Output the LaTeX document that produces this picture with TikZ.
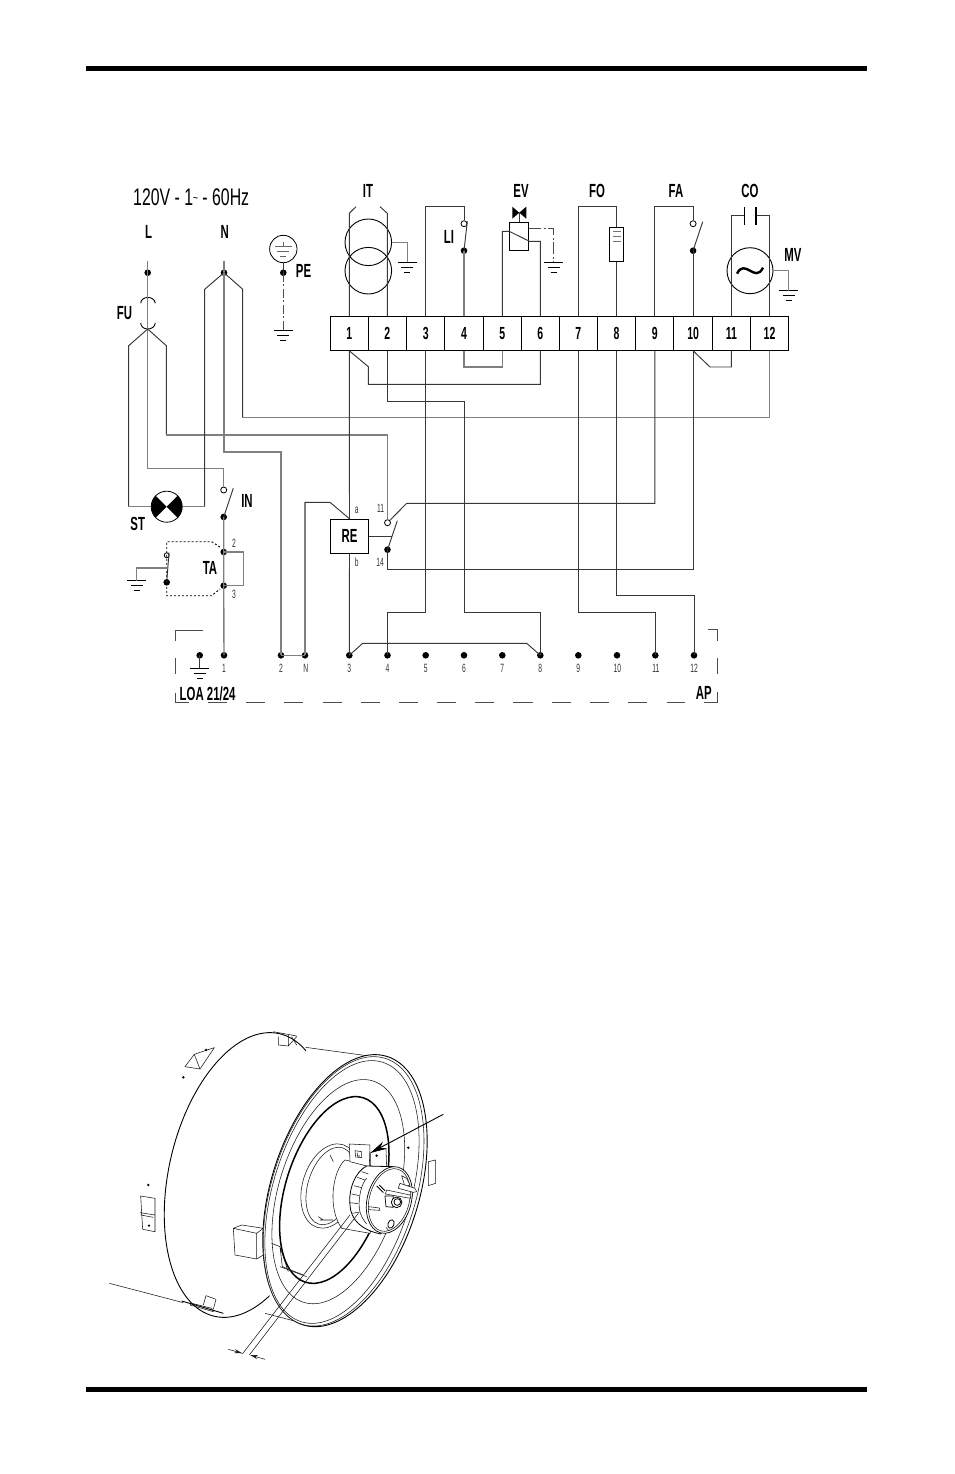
\documentclass[tikz,border=0pt]{standalone}
\usepackage{fontspec}
\setmainfont{Liberation Sans}
\newfontfamily\condf[FakeStretch=0.6]{Liberation Sans}
\newfontfamily\titlef[FakeStretch=0.66]{Liberation Sans}
\newfontfamily\smallf[FakeStretch=0.56]{Liberation Sans}
\usetikzlibrary{arrows.meta}
\tikzset{
  wire/.style={line width=0.95pt,black!78},
  greywire/.style={line width=1.4pt,black!50},
  term/.style={draw,line width=1pt,minimum width=38.3pt,minimum height=34pt,inner sep=0pt,font=\condf\bfseries\fontsize{17.5}{17.5}\selectfont},
  dot/.style={circle,fill=black,inner sep=0pt,minimum size=6.6pt},
  ocirc/.style={circle,draw,line width=0.8pt,fill=white,inner sep=0pt,minimum size=6pt},
  lab/.style={inner sep=0pt,font=\condf\bfseries\fontsize{19}{19}\selectfont},
  tiny/.style={inner sep=0pt,font=\smallf\fontsize{12}{12}\selectfont,text=black!80},
  loabox/.style={line width=1pt,black!70},
  ill/.style={line width=0.55pt,black!90,line join=round},
  gnd/.pic={\draw[line width=1pt] (-9.5,0)--(9.5,0) (-6,5)--(6,5) (-3,10)--(3,10);},
}
\newcommand{\tilt}[6][ill]{% style, cx, cy, a, b, rot (zoom units)
  \draw[#1,fill=white,rotate around={#6:(#2,#3)}] (#2,#3) ellipse [x radius=#4,y radius=#5];}
\begin{document}
\begin{tikzpicture}[x=1pt,y=-1pt]
\useasboundingbox (0,0) rectangle (954,1474);
% page bars
\fill (86,66) rectangle (867,71);
\fill (86,1387) rectangle (867,1392);
\node[inner sep=0pt,anchor=west,font=\titlef\fontsize{24}{24}\selectfont] (title) at (133,197) {120V - 1\raisebox{3pt}{\fontsize{13}{13}\selectfont\char"7E} - 60Hz};
% terminal block
\foreach \n/\x in {1/349.3,2/387.3,3/425.7,4/464,5/502.3,6/540.3,7/578.3,8/616.5,9/654.8,10/693.1,11/731.3,12/769.5}
  \node[term] (t\n) at (\x,333.3) {\n};
% labels
\node[lab] (lL) at (148.7,232) {L};
\node[lab] (lN) at (224.7,232) {N};
\node[lab] (lFU) at (124.5,313) {FU};
\node[lab] (lPE) at (303.5,271) {PE};
\node[lab] (lIT) at (368,191) {IT};
\node[lab] (lLI) at (449,237) {LI};
\node[lab] (lEV) at (521,191) {EV};
\node[lab] (lFO) at (597,191) {FO};
\node[lab] (lFA) at (676,191) {FA};
\node[lab] (lCO) at (750,191) {CO};
\node[lab] (lMV) at (793,255) {MV};
\node[lab] (lST) at (137.7,524) {ST};
\node[lab] (lIN) at (247,501) {IN};
\node[lab] (lTA) at (210,568.3) {TA};
\node[lab] (lLOA) [anchor=west] at (179.5,694) {LOA 21/24};
\node[lab] (lAP) at (703.7,693.3) {AP};
\node[tiny] (l2) at (234,543) {2};
\node[tiny] (l3) at (234,594) {3};
\node[tiny] (la) at (356.7,510) {a};
\node[tiny] (lb) at (356.7,562) {b};
\node[tiny] (l11) at (380.7,508.5) {11};
\node[tiny] (l14) at (380,562) {14};
% mains dots
\node[dot] (dL) at (147.7,272.7) {};
\node[dot] (dN) at (224,272.7) {};
\node[dot] (dPE) at (283.3,272.7) {};
\coordinate (tL) at (147.7,260.7);
\coordinate (tN) at (224,260.7);
\coordinate (brL) at (147.7,329);
% lower connector dots
\foreach \n/\x in {A/199.7,1/224,2/281,N/305,3/349.3,4/387.5,5/425.7,6/464,7/502.3,8/540.3,9/578.3,10/617,11/655.3,12/694}
  \node[dot] (b\n) at (\x,655.3) {};
\foreach \n/\x in {1/224,2/281,N/305.7,3/349.3,4/387.5,5/425.7,6/464,7/502.3,8/540.3,9/578.3,10/617.3,11/655.8,12/694}
  \node[tiny] (lb\n) at (\x,668.8) {\n};
% devices
\node[draw,circle,line width=0.8pt,minimum size=31pt,inner sep=0pt] (lamp) at (166.7,506.7) {};
\begin{scope}
  \clip (lamp.center) circle [radius=15.5pt];
  \fill (lamp.center) -- ++(-20,-20) -- ++(0,40) -- cycle;
  \fill (lamp.center) -- ++(20,-20) -- ++(0,40) -- cycle;
\end{scope}
\node[ocirc] (inO) at (223.7,490) {};
\node[dot] (inD) at (223.7,517) {};
\coordinate (inB) at (233.3,488.3);
\node[dot] (ta2) at (223.7,552) {};
\node[dot] (ta3) at (223.7,585.7) {};
\node[ocirc,minimum size=5pt] (thO) at (166.7,555.3) {};
\node[dot] (thD) at (166.7,582.3) {};
\coordinate (thB) at (169,552.5);
\node[draw,line width=1pt,fill=white,minimum width=38.4pt,minimum height=34pt,inner sep=0pt,font=\condf\bfseries\fontsize{19}{19}\selectfont] (re) at (349.5,536.3) {RE};
\node[ocirc] (c11) at (387.5,522.7) {};
\node[dot] (c14) at (387.5,549.7) {};
\coordinate (cB) at (397.3,520.7);
\node[circle,draw,line width=0.9pt,minimum size=46.6pt,inner sep=0pt] (it1) at (368.3,242.3) {};
\node[circle,draw,line width=0.9pt,minimum size=46.6pt,inner sep=0pt] (it2) at (368.3,270.7) {};
\node[ocirc] (liO) at (464,223.7) {};
\node[dot] (liD) at (464,250.7) {};
\coordinate (liB) at (467.3,221.3);
\node[draw,line width=1pt,minimum width=19.3pt,minimum height=27.7pt,inner sep=0pt] (ev) at (519.3,236.2) {};
\coordinate (bow) at (519.3,212.7);
\node[draw,line width=1pt,minimum width=13.7pt,minimum height=33.7pt,inner sep=0pt] (fo) at (616.5,244.8) {};
\node[ocirc] (faO) at (693.1,223.7) {};
\node[dot] (faD) at (693.1,250.7) {};
\coordinate (faB) at (702.7,221.7);
\node[circle,draw,line width=0.9pt,minimum size=46pt,inner sep=0pt] (mv) at (750,270.7) {};
\coordinate (cap1) at (744.3,215.7);
\coordinate (cap2) at (756,215.7);
\node[circle,draw,line width=0.8pt,minimum size=27.4pt,inner sep=0pt] (pe) at (283.3,249) {};
% ground references
\coordinate (gIT) at (407.3,262.3);
\coordinate (gEV) at (553.7,262.3);
\coordinate (gMV) at (788.7,290.7);
\coordinate (gPE) at (283.3,330.7);
\coordinate (gTH) at (136.7,580.7);
\coordinate (gA) at (199.7,668.3);
\foreach \g in {gIT,gEV,gMV,gPE,gTH,gA} \path (\g) pic {gnd};
% symbols
\draw[line width=2.4pt] ([shift={(-13,3)}]mv.center) .. controls ([shift={(-5,-13)}]mv.center) and ([shift={(5,13)}]mv.center) .. ([shift={(13,-3)}]mv.center);
\fill (bow)--++(-7,-6)--++(0,12)--cycle (bow)--++(7,-6)--++(0,12)--cycle;
\draw[wire] (bow)--(ev.north);
\draw[line width=0.8pt,black!55] ([shift={(-3.5,-13.5)}]fo.center)--++(8,0) ([shift={(-3.5,-8.5)}]fo.center)--++(8,0) ([shift={(-3.5,-3)}]fo.center)--++(8,0);
\draw[line width=0.8pt,black!60] ([shift={(-8.5,-3)}]pe.center)--++(17,0) ([shift={(-6,2)}]pe.center)--++(12,0) ([shift={(-3,7)}]pe.center)--++(6,0) ([shift={(0,-7.3)}]pe.center)--++(0,4.3);
% fuse
\draw[line width=0.9pt] (140.7,303.3) .. controls (141,295.5) and (154.5,295.5) .. (155.3,303.3);
\draw[line width=0.9pt] (140.7,323) .. controls (141,331) and (154.5,331) .. (155.3,323);
% contact blades
\draw[wire] (inD.center)--(inB);
\draw[wire] (thD.center)--(thB);
\draw[wire] (liD.center)--(liB);
\draw[wire] (faD.center)--(faB);
\draw[wire] (c14.center)--(cB);
% mains wires
\draw[greywire] (tL)--(dL.center)--(brL);
\draw[greywire] (tN)--(dN.center);
\draw[greywire] (brL)--(147.7,468.7)-|(inO.north);
\draw[wire] (brL)--(128.7,345.7)--(128.7,506.7);
\draw[greywire] (128.7,506.7)--(lamp.west);
\draw[wire] (brL)--(166.3,345.7)--(166.3,435);
\draw[greywire] (166.3,435)-|(c11.north);
\draw[wire] (dN.center)--(204.7,289.3)--(204.7,506.7);
\draw[greywire] (204.7,506.7)--(lamp.east);
\draw[wire] (dN.center)--(242.7,289.3)--(242.7,417.7);
\draw[greywire] (242.7,417.7)-|(t12.south);
\draw[greywire] (dN.center)--(224,452)-|(b2.center);
\draw[line width=0.9pt,dash pattern=on 9pt off 2.5pt on 2pt off 2.5pt,black!70] (dPE.center)--(gPE);
\draw[wire] (pe.south)--(dPE.center);
% terminal-strip upper wires
\draw[wire] (t1.north)--(349.3,213.3)--(356,206.7);
\draw[wire] (t2.north)--(387.3,213.3)--(380,206.7);
\draw[greywire] (it1.east)-|(gIT);
\draw[wire] (t3.north)--(t3.north|-0,206.7)-|(liO.north);
\draw[greywire] (liD.center)--(t4.north);
\draw[wire] (t5.north)--(502.3,231.3)--(ev.west|-0,231.3)--(ev.east|-0,241.3)-|(t6.north);
\draw[line width=0.9pt,dash pattern=on 12pt off 2.5pt on 2pt off 2.5pt,black!70] (ev.east|-0,228.7)-|(gEV);
\draw[wire] (t7.north)--(t7.north|-0,206.7)-|(fo.north);
\draw[wire] (fo.south)--(t8.north);
\draw[wire] (t9.north)--(t9.north|-0,206.7)-|(faO.north);
\draw[wire] (faD.center)--(t10.north);
\draw[wire] (t11.north)--(t11.north|-cap1)--(cap1);
\draw[wire] (t12.north)--(t12.north|-cap2)--(cap2);
\draw[line width=1.1pt] (cap1|-0,207.3)--(cap1|-0,225) (cap2|-0,207.3)--(cap2|-0,225);
\draw[greywire] (mv.east)-|(gMV);
% terminal-strip lower wires
\draw[wire] (t1.south)--(re.north);
\draw[wire] (re.south)--(b3.center);
\draw[wire] (t1.south)--(368.3,366.7)--(368.3,384.3)-|(t6.south);
\draw[wire] (t2.south)--(387.3,401)-|(464,612)-|(b8.center);
\draw[wire] (t3.south)--(425.7,612)-|(b4.center);
\draw[greywire] (t4.south)--(464,367)-|(t5.south);
\draw[wire] (t7.south)--(578.3,612)-|(b11.center);
\draw[wire] (t8.south)--(616.5,595)-|(b12.center);
\draw[wire] (t9.south)--(654.8,503.3)-|(406.7,503.3)--(c11.north east);
\draw[wire] (t10.south)--(693.1,569.3)-|(c14.center);
\draw[wire] (t10.south)--(710,367)-|(t11.south);
\draw[wire] (re.east)--(392,536.3);
\draw[greywire] (bN.center)--(305,502.3);
\draw[wire] (305,502.3)--(330,502.3)--(re.north);
% TA
\draw[greywire] (inD.center)--(ta2.center)--(ta3.center)--(b1.center);
\draw[greywire] (ta2.center)-|(243.3,585.7)--(ta3.center);
\draw[line width=0.9pt,dash pattern=on 2pt off 2pt] (220,547)--(211.7,541.7)-|(166.7,595.7)-|(211.7,595.7)--(220,589);
\draw[greywire] (167.3,568)-|(gTH);
% lower bus
\draw[greywire] (b2.center)--(bN.center);
\draw[wire] (b3.center)--(362.7,643.3)--(526.7,643.3)--(b8.center);
\draw[wire] (bA.center)--(gA);
% LOA dashed box
\draw[loabox] (203.3,630.3)-|(175.3,641);
\draw[loabox] (175.3,657.7)--(175.3,674.3);
\draw[loabox] (175.3,693.3)|-(188.7,702.7);
\foreach \s/\e in {208.3/226.7,246/265.3,284.3/303.3,322.7/341.7,360.7/380,399/418.3,437.3/456,475.3/494.3,513.3/532.7,551.7/570.7,590/609,628.3/646.7,666.7/685.3}
  \draw[loabox] (\s,702.7)--(\e,702.7);
\draw[loabox] (704.3,702.7)-|(717.7,691.7);
\draw[loabox] (717.7,657.7)--(717.7,674.3);
\draw[loabox] (708,629.7)-|(717.7,641);
% ---------- burner illustration, in zoom coordinates ----------
\begin{scope}[shift={(100,1020)},x=0.3333pt,y=-0.3333pt]
  % rear rim
  \begin{scope}
    \clip (0,0)--(618,0)--(618,92)--(600,400)--(497,880)--(497,1000)--(0,1000)--cycle;
    \draw[line width=0.9pt,rotate around={77:(441,465)}] (441,465) ellipse [x radius=435,y radius=234];
  \end{scope}
  \draw[ill] (617,82)--(800,107) (495,880)--(610,910);
  \draw[ill] (28,790)--(250,848);
  \draw[line width=0.9pt] (245,843)--(370,880);
  \draw[ill] (270,855)--(340,875)--(335,865)--(275,850)--cycle;
  \draw[ill] (318,827)--(348,838)--(340,868) (318,827)--(310,855);
  % top tab
  \draw[ill] (520,35)--(590,48) (535,50)--(535,75)--(565,78)--(590,50) (565,45)--(565,78) (575,50)--(590,75);
  % rear tabs
  \draw[ill] (283,103)--(343,83)--(300,147)--(255,140)--cycle (283,103)--(300,147);
  \fill (318,90) circle[radius=4] (250,172) circle[radius=4] (145,495) circle[radius=4] (147,617) circle[radius=4];
  \draw[ill] (122,528)--(165,535)--(165,635)--(128,628)--cycle (120,578)--(165,585) (122,585)--(160,592);
  % side box
  \draw[ill] (400,625)--(425,615)--(490,625)--(490,705)--(470,717)--(405,705)--cycle (400,625)--(470,640)--(490,625) (470,640)--(470,717);
  % side tab right
  \draw[ill] (985,425)--(1007,420)--(1007,490)--(985,497) (985,425)--(985,497);
  % front rim
  \tilt[line width=0.9pt,fill=white]{735}{512}{422}{222}{72.6}
  \tilt{731}{514}{418}{216}{72.6}
  \tilt{726}{516}{408}{206}{72.6}
  \tilt{715}{515}{348}{178}{72.6}
  \draw[line width=1.5pt,fill=white,rotate around={72.6:(703,510)}] (703,510) ellipse [x radius=290,y radius=146];
  % inner rim
  \tilt{690}{498}{130}{82}{72.6}
  \tilt{692}{498}{120}{68}{72.6}
  \draw[ill,fill=white] (735,420)..controls (700,450) and (680,560) ..(725,625)--(810,640)--(830,440)--cycle;
  \draw[ill] (690,405)--(700,425) (655,590)--(670,600) (660,600)--(700,600);
  \draw[ill] (515,670)--(540,680)--(547,740)--(610,765) (540,680)--(565,755);
  \draw[ill] (540,740)--(620,770);
  % bracket
  \draw[ill,fill=white] (812,398)--(858,385)--(860,440)--(812,450)--cycle;
  \draw[ill,fill=white] (748,372)--(810,375)--(808,440)--(750,425)--cycle;
  \draw[ill] (765,392)--(785,395)--(785,413)--(767,411)--cycle (772,398)--(772,408)--(780,408);
  \fill (830,407) circle[radius=4] (925,383) circle[radius=4];
  % head body
  \draw[line width=0.8pt,fill=white] (800,438)..controls (765,455) and (745,510)..(750,555)..controls (752,600) and (785,630)..(842,642)--(900,540)--(880,440)--cycle;
  \draw[ill] (800,475)..controls (785,490) and (775,530)..(778,565)..controls (780,585) and (790,600)..(800,612);
  \draw[ill] (785,455)--(805,462) (772,472)--(795,480) (762,497)--(785,503) (755,522)--(778,527) (750,548)--(775,551) (757,580)--(780,576);
  % face
  \tilt[line width=0.7pt,fill=white]{868}{540}{102}{66}{75}
  \tilt{868}{540}{96}{60}{75}
  % fittings
  \draw[ill,fill=white] (905,467)--(920,475)--(930,495)--(915,500)--cycle;
  \draw[ill,fill=white] (900,490)--(945,505)--(950,515)--(940,517)--(895,505)--cycle;
  \draw[ill,fill=white] (860,510)--(930,525)--(932,535)--(856,522)--cycle;
  \draw[line width=0.9pt] (830,498)--(850,518) (838,495)--(855,512);
  \draw[line width=0.7pt,fill=white] (855,528)--(880,528)--(880,562)--(858,560)--cycle;
  \draw[line width=0.8pt,fill=white] (890,547) circle[radius=16];
  \draw[line width=0.8pt,fill=white] (892,546) circle[radius=10];
  \draw[ill,fill=white] (806,560)--(838,564)--(840,571)--(806,569)--cycle;
  \draw[line width=0.8pt,rotate around={70:(873,612)}] (873,612) ellipse [x radius=13,y radius=9];
  \draw[ill] (858,622)--(866,632);
  % dimension lines
  \draw[ill] (750,585)--(427,1002) (775,580)--(448,1005);
  \draw[ill,-{Stealth[length=8pt,width=4pt]}] (385,988)--(427,1000);
  \draw[ill,-{Stealth[length=8pt,width=4pt]}] (495,1018)--(450,1005);
  % pointer
  \draw[line width=0.9pt,-{Stealth[length=16pt,width=8pt]}] (1030,283)--(812,398);
\end{scope}
\end{tikzpicture}
\end{document}
